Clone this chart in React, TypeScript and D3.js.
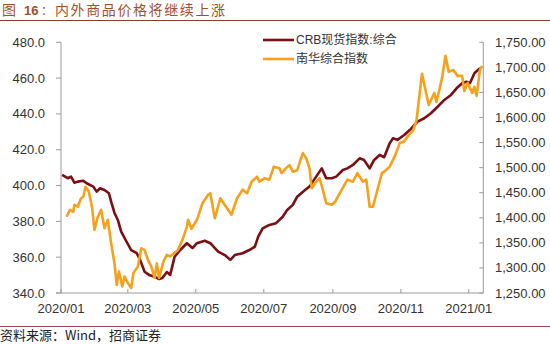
import React from "react";
import * as d3 from "d3";

const crbDates = [
  "2020-01-02","2020-01-07","2020-01-10","2020-01-13","2020-01-16","2020-01-21","2020-01-24","2020-01-30",
  "2020-02-02","2020-02-05","2020-02-09","2020-02-13","2020-02-15","2020-02-18","2020-02-21","2020-02-24","2020-02-28",
  "2020-03-04","2020-03-09","2020-03-12","2020-03-16","2020-03-20","2020-03-25","2020-03-29",
  "2020-04-01","2020-04-05","2020-04-08","2020-04-12","2020-04-17","2020-04-23","2020-04-28",
  "2020-05-02","2020-05-09","2020-05-14","2020-05-21","2020-05-27",
  "2020-06-01","2020-06-05","2020-06-12","2020-06-18","2020-06-23","2020-06-26","2020-06-30",
  "2020-07-06","2020-07-12","2020-07-18","2020-07-22","2020-07-27","2020-07-31",
  "2020-08-07","2020-08-11","2020-08-17","2020-08-22","2020-08-26","2020-08-31",
  "2020-09-04","2020-09-10","2020-09-14","2020-09-19","2020-09-25","2020-09-29",
  "2020-10-04","2020-10-08","2020-10-13","2020-10-17","2020-10-22","2020-10-25","2020-10-29",
  "2020-11-04","2020-11-09","2020-11-16","2020-11-22","2020-11-28",
  "2020-12-04","2020-12-10","2020-12-16","2020-12-21","2020-12-26","2020-12-30",
  "2021-01-02","2021-01-06","2021-01-11"
];
const crbValues = [
  405.9,404.1,405.0,401.6,402.2,402.7,401.3,399.4,
  396.6,398.5,397.5,395.7,391.0,384.7,380.8,374.3,369.6,
  364.0,362.2,358.5,351.9,350.1,349.1,347.8,
  348.4,351.7,350.1,360.3,364.0,367.8,365.1,
  367.8,369.2,367.8,363.1,361.2,
  358.5,361.2,362.2,364.0,365.9,371.5,376.1,
  378.0,379.0,382.6,386.4,389.2,393.8,
  397.5,399.4,405.0,409.6,404.1,404.1,
  405.0,408.7,409.6,411.5,415.2,414.3,
  409.6,414.3,417.1,415.8,423.6,426.4,425.5,
  428.2,431.0,435.7,437.6,440.4,
  444.0,447.8,450.6,454.3,457.1,458.0,
  457.1,462.7,465.5
];

const nhDates = [
  "2020-01-06","2020-01-09","2020-01-12","2020-01-13","2020-01-16","2020-01-19","2020-01-21","2020-01-23","2020-01-26","2020-01-29","2020-01-31",
  "2020-02-03","2020-02-06","2020-02-09","2020-02-12","2020-02-15","2020-02-18","2020-02-20","2020-02-22","2020-02-25","2020-02-27",
  "2020-03-01","2020-03-04","2020-03-06","2020-03-10","2020-03-13","2020-03-16","2020-03-19","2020-03-22","2020-03-25","2020-03-27","2020-03-29",
  "2020-04-02","2020-04-05","2020-04-08","2020-04-15","2020-04-19","2020-04-23","2020-04-24","2020-04-27",
  "2020-05-02","2020-05-07","2020-05-12","2020-05-14","2020-05-18","2020-05-23","2020-05-25","2020-05-29",
  "2020-06-02","2020-06-07","2020-06-12","2020-06-16","2020-06-20","2020-06-25","2020-06-27",
  "2020-07-02","2020-07-06","2020-07-10","2020-07-15","2020-07-17","2020-07-21","2020-07-24","2020-07-27","2020-07-31",
  "2020-08-05","2020-08-08","2020-08-11","2020-08-13","2020-08-16","2020-08-20","2020-08-23","2020-08-26","2020-08-31",
  "2020-09-03","2020-09-09","2020-09-14","2020-09-19","2020-09-23","2020-09-28",
  "2020-10-01","2020-10-04","2020-10-07","2020-10-11","2020-10-15","2020-10-17","2020-10-22","2020-10-27","2020-10-31",
  "2020-11-04","2020-11-07","2020-11-12","2020-11-15","2020-11-18","2020-11-20","2020-11-26",
  "2020-12-01","2020-12-03","2020-12-08","2020-12-11","2020-12-14","2020-12-18","2020-12-22","2020-12-26","2020-12-28","2020-12-31",
  "2021-01-04","2021-01-06","2021-01-08","2021-01-11","2021-01-13"
];
const nhValues = [
  1402,1416,1412,1426,1422,1439,1442,1462,1452,1419,1376,
  1402,1416,1379,1396,1349,1309,1266,1293,1263,1283,
  1270,1260,1290,1303,1339,1336,1316,1303,1280,1309,1280,
  1313,1326,1323,1336,1356,1382,1396,1378,
  1396,1429,1446,1449,1399,1439,1432,1419,
  1406,1439,1456,1449,1472,1482,1472,
  1479,1476,1502,1499,1489,1499,1505,1492,1495,
  1529,1519,1499,1459,1469,1479,1456,1429,1426,
  1432,1456,1476,1472,1489,1472,
  1476,1422,1422,1456,1489,1492,1502,1525,1549,
  1552,1562,1575,1593,1650,1687,1625,
  1649,1631,1679,1723,1691,1695,1683,1683,1653,1669,
  1649,1661,1643,1695,1703
];

const leftTicks = [340, 360, 380, 400, 420, 440, 460, 480];
const rightTicks = [1250, 1300, 1350, 1400, 1450, 1500, 1550, 1600, 1650, 1700, 1750];
const xTickDates = ["2020-01-01", "2020-03-01", "2020-05-01", "2020-07-01", "2020-09-01", "2020-11-01", "2021-01-01"];
const seriesNames = ["CRB现货指数:综合", "南华综合指数"];
const titleText = ["图", "16", "：", "内外商品价格将继续上涨"];
const sourceText = "资料来源：Wind，招商证券";

const parse = d3.utcParse("%Y-%m-%d");
const W = 550, H = 344;
const FONT = "'Liberation Sans', Arial, 'Noto Sans CJK SC', sans-serif";
const CJK = "'Noto Sans CJK SC', sans-serif";
const CRB_COLOR = "#7a0f14";
const NH_COLOR = "#f5a11c";
const AXIS_COLOR = "#9a9a9a";
const TITLE_COLOR = "#a34f2c";

export default function App() {
  const x = d3.scaleUtc()
    .domain([parse("2020-01-01")!, parse("2021-01-14")!])
    .range([61, 483.3]);
  const yL = d3.scaleLinear().domain([340, 480]).range([293, 42.3]);
  const yR = d3.scaleLinear().domain([1250, 1750]).range([293, 42.3]);

  const crb = crbDates.map((d, i) => ({ d: parse(d)!, v: crbValues[i] }));
  const nh = nhDates.map((d, i) => ({ d: parse(d)!, v: nhValues[i] }));

  const lineL = d3.line<{ d: Date; v: number }>().x(p => x(p.d)).y(p => yL(p.v));
  const lineR = d3.line<{ d: Date; v: number }>().x(p => x(p.d)).y(p => yR(p.v));

  const fmtL = d3.format(".1f");
  const fmtR = d3.format(",.2f");
  const fmtX = d3.utcFormat("%Y/%m");

  const x0 = x.range()[0], x1 = x.range()[1];
  const yTop = yL.range()[1], yBot = yL.range()[0];

  return (
    <svg width={W} height={H} style={{ position: "absolute", left: 0, top: 0, background: "#fff" }} fontFamily={FONT}>
      <rect x={0} y={0} width={W} height={H} fill="#fff" />
      {/* title */}
      <text x={2} y={15} fill={TITLE_COLOR} fontSize={14} fontFamily={CJK}>{titleText[0]}</text>
      <text x={24} y={15} fill={TITLE_COLOR} fontSize={13} fontWeight="bold">{titleText[1]}</text>
      <text x={41} y={15} fill={TITLE_COLOR} fontSize={12} fontFamily={CJK}>{titleText[2]}</text>
      <text x={55} y={15} fill={TITLE_COLOR} fontSize={14} fontFamily={CJK} textLength={170} lengthAdjust="spacing">{titleText[3]}</text>
      <line x1={0} x2={W} y1={20.5} y2={20.5} stroke="#8e3a35" strokeWidth={1.2} />

      {/* left axis */}
      <line x1={x0} x2={x0} y1={yTop} y2={yBot} stroke={AXIS_COLOR} />
      {leftTicks.map(t => (
        <g key={"l" + t}>
          <line x1={x0 - 5} x2={x0} y1={yL(t)} y2={yL(t)} stroke={AXIS_COLOR} />
          <text x={45} y={yL(t)} dy="0.35em" textAnchor="end" fontSize={13} fill="#333">{fmtL(t)}</text>
        </g>
      ))}
      {/* right axis */}
      <line x1={x1} x2={x1} y1={yTop} y2={yBot} stroke={AXIS_COLOR} />
      {rightTicks.map(t => (
        <g key={"r" + t}>
          <line x1={x1 - 4} x2={x1} y1={yR(t)} y2={yR(t)} stroke={AXIS_COLOR} />
          <text x={495} y={yR(t)} dy="0.35em" textAnchor="start" fontSize={13} fill="#333">{fmtR(t)}</text>
        </g>
      ))}
      {/* bottom axis */}
      <line x1={x0 - 5} x2={x1} y1={yBot} y2={yBot} stroke={AXIS_COLOR} />
      {xTickDates.map(s => {
        const d = parse(s)!;
        return (
          <g key={s}>
            <line x1={x(d)} x2={x(d)} y1={yBot - 4} y2={yBot} stroke={AXIS_COLOR} />
            <text x={x(d)} y={313} textAnchor="middle" fontSize={13} fill="#333">{fmtX(d)}</text>
          </g>
        );
      })}

      {/* series */}
      <path d={lineL(crb) || ""} fill="none" stroke={CRB_COLOR} strokeWidth={2.6} strokeLinejoin="round" />
      <path d={lineR(nh) || ""} fill="none" stroke={NH_COLOR} strokeWidth={2.6} strokeLinejoin="round" />

      {/* legend */}
      {seriesNames.map((n, i) => (
        <g key={n} transform={`translate(0, ${40 + i * 19})`}>
          <line x1={263} x2={294} y1={0} y2={0} stroke={i === 0 ? CRB_COLOR : NH_COLOR} strokeWidth={2.6} />
          <text x={296} y={0} dy="0.35em" fontSize={12} fill="#333">{n}</text>
        </g>
      ))}

      {/* footer */}
      <line x1={0} x2={W} y1={326.5} y2={326.5} stroke="#a0454a" strokeWidth={1.2} />
      <text x={0} y={340} fontSize={13} fill="#222" fontFamily={CJK}>{sourceText}</text>
    </svg>
  );
}
